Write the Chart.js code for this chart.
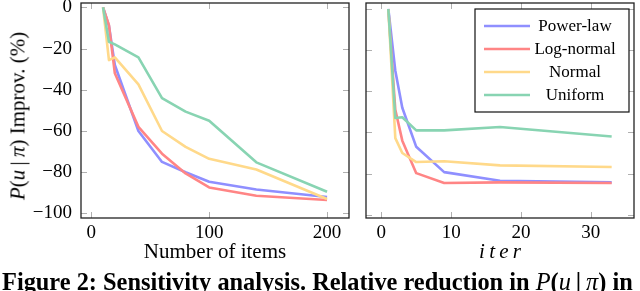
<!DOCTYPE html>
<html>
<head>
<meta charset="utf-8">
<script src="https://cdn.jsdelivr.net/npm/chart.js@4.4.1/dist/chart.umd.min.js"></script>
<style>
body { margin: 0; background: #fff; width: 640px; height: 291px; overflow: hidden; position: relative; font-family: "Liberation Serif", serif; color: #000; }
canvas { position: absolute; top: 0; }
#c1 { left: 0; }
#c2 { left: 355px; }
#ytitle { position: absolute; left: 18px; top: 116px; transform: translate(-50%, -50%) rotate(-90deg); white-space: nowrap; font-size: 21px; }
#caption { position: absolute; left: 2px; top: 268px; white-space: nowrap; font-weight: bold; font-size: 21px; }
#caption i { font-weight: normal; }
</style>
</head>
<body>
<canvas id="c1" width="355" height="291"></canvas>
<canvas id="c2" width="285" height="291"></canvas>
<div id="ytitle"><i>P</i>(<i>u</i>&thinsp;|&thinsp;<i>π</i>) Improv. (%)</div>
<div id="caption">Figure 2: Sensitivity analysis. Relative reduction in <i>P</i>(<i>u</i>&thinsp;|&thinsp;<i>π</i>) in</div>
<script>
// series names and colours
var names = ['Power-law', 'Log-normal', 'Normal', 'Uniform'];
var colors = ['#8f8fff', '#ff8585', '#ffd98a', '#88d4b2'];

// left panel: number of items
var items = [10, 15, 20, 40, 60, 80, 100, 140, 200];
var itemsPower = [0, -9, -28, -60, -75, -80, -84.6, -88.4, -92];
var itemsLog = [0, -8.6, -32, -58, -71, -80.6, -87.4, -91.4, -93.5];
var itemsNormal = [0, -25.6, -24.3, -37.4, -60, -67.7, -73.5, -78.7, -93];
var itemsUniform = [0, -16.7, -18, -24.3, -44, -50.6, -55, -75.2, -89.5];

// right panel: iterations
var iters = [1, 2, 3, 5, 9, 17, 33];
var iterPower = [0, -30, -48, -67, -79.3, -83.5, -84.3];
var iterLog = [0, -49, -64, -79.8, -84.6, -84.3, -84.6];
var iterNormal = [0, -62.8, -70, -74.4, -74, -76, -76.8];
var iterUniform = [0, -53, -52.6, -59, -59, -57.4, -62];

function fitWidth(id, w) {
    var el = document.getElementById(id);
    var fs = parseFloat(getComputedStyle(el).fontSize);
    el.style.fontSize = (fs * w / el.getBoundingClientRect().width) + 'px';
}
fitWidth('caption', 631);

function pairs(xs, ys) {
    return xs.map(function (x, i) { return { x: x, y: ys[i] }; });
}

function makeSets(xs, series) {
    return series.map(function (s, i) {
        return {
            label: names[i],
            data: pairs(xs, s),
            borderColor: colors[i],
            backgroundColor: colors[i],
            borderWidth: 2.6,
            pointRadius: 0,
            tension: 0,
            borderJoinStyle: 'round',
            order: 4 - i
        };
    });
}

// small grey ticks inside all four sides, and the black frame
var frameTicks = {
    id: 'frameTicks',
    beforeDatasetsDraw: function (chart) {
        var ctx = chart.ctx, a = chart.chartArea, x = chart.scales.x, y = chart.scales.y;
        ctx.save();
        ctx.strokeStyle = '#b0b0b0';
        ctx.lineWidth = 1;
        ctx.beginPath();
        y.ticks.forEach(function (t) {
            var py = Math.round(y.getPixelForValue(t.value)) + 0.5;
            ctx.moveTo(a.left, py); ctx.lineTo(a.left + 6, py);
            ctx.moveTo(a.right - 6, py); ctx.lineTo(a.right, py);
        });
        x.ticks.forEach(function (t) {
            var px = Math.round(x.getPixelForValue(t.value)) + 0.5;
            ctx.moveTo(px, a.top); ctx.lineTo(px, a.top + 6);
            ctx.moveTo(px, a.bottom - 6); ctx.lineTo(px, a.bottom);
        });
        ctx.stroke();
        ctx.restore();
    },
    afterDatasetsDraw: function (chart) {
        var ctx = chart.ctx, a = chart.chartArea;
        ctx.save();
        ctx.strokeStyle = '#222';
        ctx.lineWidth = 1.3;
        ctx.strokeRect(a.left, a.top, a.right - a.left, a.bottom - a.top);
        ctx.restore();
    }
};

// legend box inside the right panel
var boxLegend = {
    id: 'boxLegend',
    afterDraw: function (chart) {
        var ctx = chart.ctx, a = chart.chartArea;
        var w = 154, h = 103;
        var bx = a.right - 5 - w, by = a.top + 6;
        ctx.save();
        ctx.fillStyle = '#fff';
        ctx.fillRect(bx, by, w, h);
        ctx.strokeStyle = '#111';
        ctx.lineWidth = 1.2;
        ctx.strokeRect(bx, by, w, h);
        ctx.font = '17px "Liberation Serif"';
        ctx.textAlign = 'center';
        ctx.textBaseline = 'middle';
        chart.data.datasets.forEach(function (ds, i) {
            var ry = by + 17 + i * 23;
            ctx.strokeStyle = ds.borderColor;
            ctx.lineWidth = 2.4;
            ctx.beginPath();
            ctx.moveTo(bx + 9, ry); ctx.lineTo(bx + 55, ry);
            ctx.stroke();
            ctx.fillStyle = '#000';
            ctx.fillText(ds.label, bx + 100, ry + 1);
        });
        ctx.restore();
    }
};

function minus(v) {
    return v < 0 ? '\u2212' + Math.abs(v) : String(v);
}

function makeChart(id, xs, series, xmin, xmax, xstep, ymin, ymax, yWidth, showY, xTitle, italic) {
    return new Chart(document.getElementById(id), {
        type: 'line',
        data: { datasets: makeSets(xs, series) },
        options: {
            responsive: false,
            animation: false,
            layout: { padding: { top: 3, right: 6, left: 0, bottom: 0 } },
            plugins: { legend: { display: false }, tooltip: { enabled: false } },
            scales: {
                x: {
                    type: 'linear',
                    min: xmin, max: xmax,
                    grid: { display: false, drawTicks: false },
                    border: { display: false },
                    ticks: {
                        stepSize: xstep, includeBounds: false, padding: 4,
                        color: '#000',
                        font: { family: 'Liberation Serif', size: 19 },
                        maxRotation: 0
                    },
                    title: {
                        display: true, text: xTitle, color: '#000',
                        padding: { top: 0, bottom: 26 },
                        font: { family: 'Liberation Serif', size: 21, style: italic ? 'italic' : 'normal' }
                    },
                    afterFit: function (s) { s.height = 73; s.paddingLeft = 0; s.paddingRight = 0; }
                },
                y: {
                    min: ymin, max: ymax,
                    grid: { display: false, drawTicks: false },
                    border: { display: false },
                    ticks: {
                        display: showY,
                        stepSize: 20, includeBounds: false, padding: 9,
                        color: '#000',
                        font: { family: 'Liberation Serif', size: 19 },
                        callback: function (v) { return minus(v); }
                    },
                    afterFit: function (s) { s.width = yWidth; s.paddingTop = 0; s.paddingBottom = 0; }
                }
            }
        },
        plugins: id === 'c2' ? [frameTicks, boxLegend] : [frameTicks]
    });
}

makeChart('c1', items, [itemsPower, itemsLog, itemsNormal, itemsUniform],
    -8.7, 218.6, 100, -102.2, 2.1, 81, true, 'Number of items', false);
makeChart('c2', iters, [iterPower, iterLog, iterNormal, iterUniform],
    -2.2, 36.2, 10, -101.6, 2.9, 11, false, 'i\u2009t\u2009e\u2009r', true);
</script>
</body>
</html>
